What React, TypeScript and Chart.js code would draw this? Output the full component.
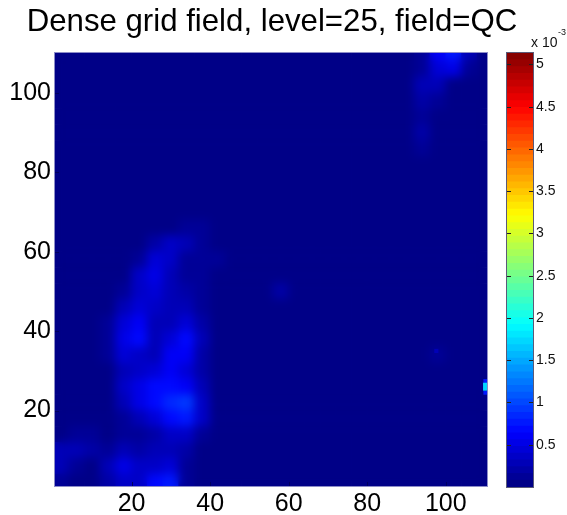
import React, { useEffect, useRef } from "react";
import { Chart, registerables } from "chart.js";

Chart.register(...registerables);

const titleText = "Dense grid field, level=25, field=QC";
const xTickValues = [20, 40, 60, 80, 100];
const yTickValues = [20, 40, 60, 80, 100];
const barTickValues = [0.5, 1, 1.5, 2, 2.5, 3, 3.5, 4, 4.5, 5];
const colX = [2, 6, 10, 14, 18, 22, 26, 30, 34, 38, 42, 46, 50, 54, 58, 62, 66, 70, 74, 78, 82, 86, 90, 94, 98, 102, 106, 110];
const rowY = [110, 106, 102, 98, 94, 90, 86, 82, 78, 74, 70, 66, 62, 58, 54, 50, 46, 42, 38, 34, 30, 26, 22, 18, 14, 10, 6, 2];
// QC values, in units of 1e-3, one row per rowY entry
const qcRows = [
  [0,0,0,0,0,0,0,0,0,0,0,0,0,0,0,0,0,0,0,0,0,0,0,.12,.6,.8,.3,0],
  [0,0,0,0,0,0,0,0,0,0,0,0,0,0,0,0,0,0,0,0,0,0,0,.15,.45,.5,.1,0],
  [0,0,0,0,0,0,0,0,0,0,0,0,0,0,0,0,0,0,0,0,0,0,0,.28,.28,0,0,0],
  [0,0,0,0,0,0,0,0,0,0,0,0,0,0,0,0,0,0,0,0,0,0,0,.22,.12,0,0,0],
  [0,0,0,0,0,0,0,0,0,0,0,0,0,0,0,0,0,0,0,0,0,0,0,.15,.03,0,0,0],
  [0,0,0,0,0,0,0,0,0,0,0,0,0,0,0,0,0,0,0,0,0,0,0,.2,0,0,0,0],
  [0,0,0,0,0,0,0,0,0,0,0,0,0,0,0,0,0,0,0,0,0,0,0,.14,0,0,0,0],
  [0,0,0,0,0,0,0,0,0,0,0,0,0,0,0,0,0,0,0,0,0,0,0,0,0,0,0,0],
  [0,0,0,0,0,0,0,0,0,0,0,0,0,0,0,0,0,0,0,0,0,0,0,0,0,0,0,0],
  [0,0,0,0,0,0,0,0,0,0,0,0,0,0,0,0,0,0,0,0,0,0,0,0,0,0,0,0],
  [0,0,0,0,0,0,0,0,0,0,0,0,0,0,0,0,0,0,0,0,0,0,0,0,0,0,0,0],
  [0,0,0,0,0,0,0,.08,.16,.16,.03,0,0,0,0,0,0,0,0,0,0,0,0,0,0,0,0,0],
  [0,0,0,0,0,0,.18,.36,.28,.16,.06,0,0,0,0,0,0,0,0,0,0,0,0,0,0,0,0,0],
  [0,0,0,0,0,.16,.45,.35,.16,.14,.1,0,0,0,0,0,0,0,0,0,0,0,0,0,0,0,0,0],
  [0,0,0,0,.08,.38,.55,.28,.16,.16,.08,0,0,0,0,0,0,0,0,0,0,0,0,0,0,0,0,0],
  [0,0,0,0,.15,.4,.42,.28,.22,.14,.05,0,0,0,.2,0,0,0,0,0,0,0,0,0,0,0,0,0],
  [0,0,0,.03,.26,.42,.35,.28,.28,.16,.03,0,0,0,.06,0,0,0,0,0,0,0,0,0,0,0,0,0],
  [0,0,0,.1,.45,.6,.3,.3,.45,.2,.02,0,0,0,0,0,0,0,0,0,0,0,0,0,0,0,0,0],
  [0,0,0,.14,.5,.72,.3,.42,.7,.28,0,0,0,0,0,0,0,0,0,0,0,0,0,0,0,0,0,0],
  [0,0,0,.1,.42,.4,.28,.58,.62,.24,0,0,0,0,0,0,0,0,0,0,0,0,0,0,.1,0,0,0],
  [0,0,0,.06,.28,.35,.42,.62,.48,.2,0,0,0,0,0,0,0,0,0,0,0,0,0,0,0,0,0,0],
  [0,0,0,.06,.35,.55,.72,.7,.6,.28,0,0,0,0,0,0,0,0,0,0,0,0,0,0,0,0,0,0],
  [0,0,0,.04,.28,.5,.65,.88,.92,.4,0,0,0,0,0,0,0,0,0,0,0,0,0,0,0,0,0,0],
  [0,0,0,.03,.16,.28,.42,.7,.75,.4,.02,0,0,0,0,0,0,0,0,0,0,0,0,0,0,0,0,0],
  [.06,.1,.12,.08,.1,.16,.2,.34,.4,.16,0,0,0,0,0,0,0,0,0,0,0,0,0,0,0,0,0,0],
  [.3,.3,.2,.14,.28,.2,.26,.32,.2,.02,0,0,0,0,0,0,0,0,0,0,0,0,0,0,0,0,0,0],
  [.3,.15,.08,.26,.5,.4,.4,.45,.12,0,0,0,0,0,0,0,0,0,0,0,0,0,0,0,0,0,0,0],
  [.14,.06,.05,.18,.4,.4,.7,.75,.12,0,0,0,0,0,0,0,0,0,0,0,0,0,0,0,0,0,0,0],
];
// Small features that stay sharp: a faint speck and the bright spot on the right edge
const spotX = [97.6, 110.1, 110.1, 110.5];
const spotY = [35, 27.4, 24.5, 26];
const spotV = [0.3, 0.75, 0.75, 1.7];

const COLOR_MAX = 5.135;
const LEVELS = 64;

function jet(level: number): string {
  const t = (level + 0.5) / LEVELS;
  const band = (c: number) => Math.round(255 * Math.max(0, Math.min(1, 1.5 - Math.abs(4 * t - c))));
  return `rgb(${band(3)},${band(2)},${band(1)})`;
}
function colorOf(v: number): string {
  return jet(Math.max(0, Math.min(LEVELS - 1, Math.floor((v / COLOR_MAX) * LEVELS))));
}

const levelList = Array.from({ length: LEVELS }, (_, i) => i);
const FONT = "'Liberation Sans', Arial, sans-serif";

const smoothPlugin = {
  id: "smooth",
  afterDatasetDraw(chart: any, args: any) {
    if (args.index !== 1) return;
    const { left, top, width, height } = chart.chartArea;
    const ctx = chart.ctx;
    ctx.save();
    ctx.beginPath();
    ctx.rect(left, top, width, height);
    ctx.clip();
    ctx.filter = "blur(5px)";
    ctx.drawImage(chart.canvas, left, top, width, height, left, top, width, height);
    ctx.restore();
  },
};

const framePlugin = {
  id: "frame",
  afterDraw(chart: any) {
    const { left, right, top, bottom } = chart.chartArea;
    const ctx = chart.ctx;
    ctx.save();
    ctx.strokeStyle = "#8c8cc8";
    ctx.lineWidth = 1;
    ctx.strokeRect(Math.round(left) - 0.5, Math.round(top) - 0.5, right - left + 1, bottom - top + 1);
    ctx.strokeStyle = "#000060";
    ctx.beginPath();
    for (const t of chart.scales.x.ticks) {
      const p = Math.round(chart.scales.x.getPixelForValue(t.value)) + 0.5;
      ctx.moveTo(p, bottom);
      ctx.lineTo(p, bottom - 4);
    }
    for (const t of chart.scales.y.ticks) {
      const p = Math.round(chart.scales.y.getPixelForValue(t.value)) + 0.5;
      ctx.moveTo(left, p);
      ctx.lineTo(left + 4, p);
    }
    ctx.stroke();
    ctx.restore();
  },
};

const barPlugin = {
  id: "barFrame",
  afterDraw(chart: any) {
    const { left, right, top, bottom } = chart.chartArea;
    const ctx = chart.ctx;
    ctx.save();
    ctx.strokeStyle = "#5a5a78";
    ctx.lineWidth = 1;
    ctx.strokeRect(left - 0.5, top - 0.5, right - left + 1, bottom - top + 1);
    ctx.strokeStyle = "#222222";
    ctx.beginPath();
    for (const t of chart.scales.y.ticks) {
      const p = Math.round(chart.scales.y.getPixelForValue(t.value)) + 0.5;
      ctx.moveTo(left, p);
      ctx.lineTo(left + 4, p);
      ctx.moveTo(right, p);
      ctx.lineTo(right - 4, p);
    }
    ctx.stroke();
    ctx.fillStyle = "#111111";
    ctx.textAlign = "left";
    ctx.textBaseline = "middle";
    ctx.font = `14px ${FONT}`;
    ctx.fillText("x 10", 36, 43);
    ctx.font = `9px ${FONT}`;
    ctx.fillText("-3", 63, 33);
    ctx.restore();
  },
};

export default function App() {
  const mainRef = useRef<HTMLCanvasElement>(null);
  const barRef = useRef<HTMLCanvasElement>(null);

  useEffect(() => {
    const cells: { x: number; y: number; v: number }[] = [];
    rowY.forEach((y, r) => colX.forEach((x, c) => cells.push({ x, y, v: qcRows[r][c] })));
    const spots = spotX.map((x, i) => ({ x, y: spotY[i], v: spotV[i] }));

    const main = new Chart(mainRef.current!, {
      type: "scatter",
      data: {
        datasets: [
          {
            data: spots,
            pointStyle: "rect",
            pointRadius: (c: any) => (c.raw && c.raw.v > 1 ? 5.6 : 2.9),
            pointBorderWidth: 0,
            pointBackgroundColor: (c: any) => colorOf(c.raw ? c.raw.v : 0),
          },
          {
            data: cells,
            pointStyle: "rect",
            pointRadius: 11.6,
            pointBorderWidth: 0,
            pointBackgroundColor: (c: any) => colorOf(c.raw ? c.raw.v : 0),
          },
        ],
      } as any,
      options: {
        responsive: false,
        animation: false,
        layout: { padding: 0 },
        plugins: {
          legend: { display: false },
          tooltip: { enabled: false },
          title: {
            display: true,
            text: titleText,
            color: "#000",
            font: { family: FONT, size: 31.2, weight: "normal", lineHeight: 1.2 },
            padding: { top: 3.5, bottom: 12.06 },
          },
        },
        scales: {
          x: {
            type: "linear",
            min: 0.5,
            max: 110.5,
            afterBuildTicks: (s: any) => {
              s.ticks = xTickValues.map((value) => ({ value }));
            },
            afterFit: (s: any) => {
              s.height = 29;
            },
            grid: { display: false, drawTicks: false },
            border: { display: false },
            ticks: { color: "#000", padding: 3, maxRotation: 0, font: { family: FONT, size: 25 } },
          },
          y: {
            type: "linear",
            min: 1,
            max: 110,
            afterBuildTicks: (s: any) => {
              s.ticks = yTickValues.map((value) => ({ value }));
            },
            afterFit: (s: any) => {
              s.width = 55;
            },
            grid: { display: false, drawTicks: false },
            border: { display: false },
            ticks: { color: "#000", padding: 4, font: { family: FONT, size: 25 } },
          },
          gutter: {
            type: "linear",
            position: "right",
            afterFit: (s: any) => {
              s.width = 57;
            },
            grid: { display: false, drawTicks: false },
            border: { display: false },
            ticks: { display: false },
          },
        },
      } as any,
      plugins: [smoothPlugin, framePlugin],
    });

    const bar = new Chart(barRef.current!, {
      type: "bar",
      data: {
        labels: ["QC"],
        datasets: levelList.map((lv) => ({
          data: [[0, ((lv + 1) / LEVELS) * COLOR_MAX]],
          backgroundColor: jet(lv),
          borderWidth: 0,
          grouped: false,
          barPercentage: 1,
          categoryPercentage: 1,
        })),
      } as any,
      options: {
        responsive: false,
        animation: false,
        layout: { padding: { left: 12, right: 0, top: 53, bottom: 28 } },
        plugins: { legend: { display: false }, tooltip: { enabled: false }, title: { display: false } },
        scales: {
          x: { display: false },
          y: {
            position: "right",
            min: 0,
            max: COLOR_MAX,
            afterBuildTicks: (s: any) => {
              s.ticks = barTickValues.map((value) => ({ value }));
            },
            afterFit: (s: any) => {
              s.width = 34;
            },
            grid: { display: false, drawTicks: false },
            border: { display: false },
            ticks: {
              color: "#111",
              padding: 3,
              font: { family: FONT, size: 14 },
              callback: (v: any) => String(v),
            },
          },
        },
      } as any,
      plugins: [barPlugin],
    });

    return () => {
      main.destroy();
      bar.destroy();
    };
  }, []);

  return (
    <div style={{ position: "absolute", left: 0, top: 0, width: 567, height: 515, overflow: "hidden", background: "#fff" }}>
      <canvas ref={mainRef} width={544} height={515} style={{ position: "absolute", left: 0, top: 0 }} />
      <canvas ref={barRef} width={72} height={515} style={{ position: "absolute", left: 495, top: 0 }} />
    </div>
  );
}
